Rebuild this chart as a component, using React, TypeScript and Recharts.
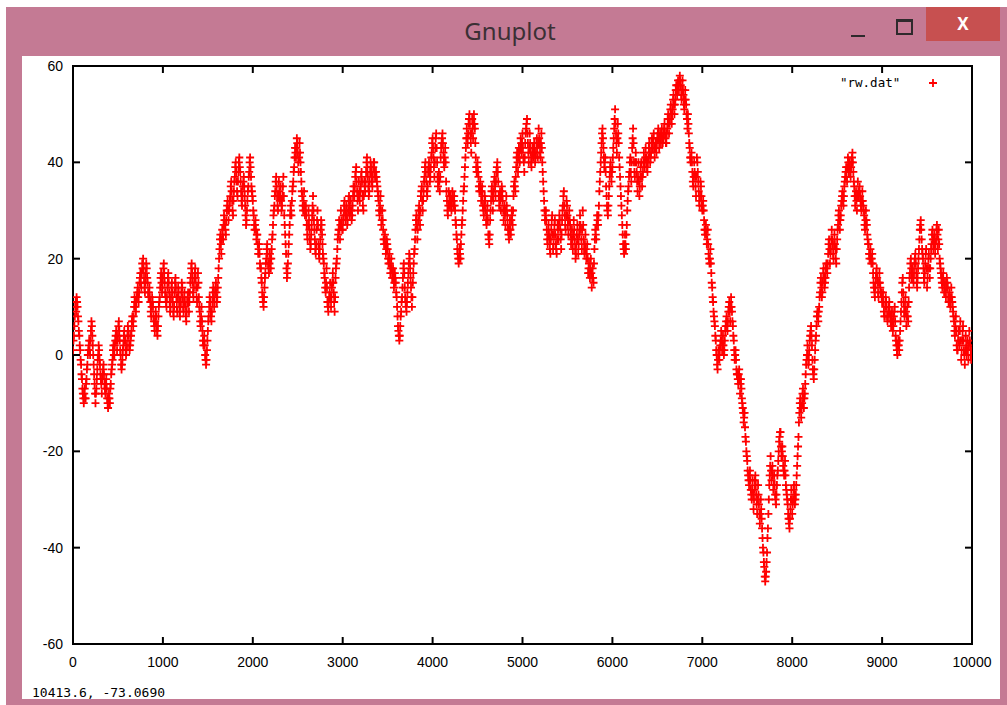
import React from 'react';
import { ScatterChart, Scatter, XAxis, YAxis, ReferenceLine, ReferenceArea } from 'recharts';

// Random walk "rw.dat": samples at steps 0,10,20,... (walkA)
// and at steps 5,15,25,... (walkB)
const STEP = 10;
const OFFSET_B = 5;
const walkA: number[] = [
  1,4,8,11,12, 10,7,4,1,-2, -5,-8,-10,-7,-9, -5,-2,1,3,0, 5,6,2,-2,-6, -10,-7,-3,0,1, -2,-5,-8,-4,-2, -6,-8,-5,-9,-11, -8,-10,-6,-3,-1, 2,0,3,5,1,
  4,7,3,0,-3, -1,2,5,3,0, 2,6,4,1,3, 5,8,6,10,11, 9,12,14,11,15, 17,14,19,20,16, 13,17,18,15,12, 14,11,8,12,10, 7,5,9,6,4, 8,11,14,17,13,
  16,19,15,12,10, 14,17,13,9,12, 15,11,8,13,16, 12,9,14,11,8, 11,15,12,9,13, 10,7,11,13,9, 13,16,19,15,12, 16,18,14,11,17, 12,9,6,10,5, 2,4,0,-2,1,
  5,8,12,9,7, 11,14,10,13,15, 11,14,18,22,25, 21,26,24,29,27, 25,30,32,28,31, 33,36,32,29,34, 37,40,36,33,38, 41,38,34,31,35, 37,33,29,28,32, 35,38,41,37,34,
  32,29,26,28,24, 25,21,23,19,18, 15,12,10,14,17, 20,23,19,17,21, 18,22,25,29,31, 34,37,33,30,36, 32,35,30,33,37, 29,25,21,16,19, 23,27,31,29,34, 36,39,43,41,45,
  42,38,44,40,36, 33,30,34,29,31, 27,24,30,26,22, 25,29,33,28,24, 21,26,30,23,20, 24,28,25,21,19, 16,13,18,11,9, 12,15,10,14,17, 13,9,16,19,22, 25,28,24,30,27,
  26,29,32,28,31, 27,30,33,29,32, 28,31,35,33,37, 39,34,30,36,32, 35,38,33,30,36, 34,38,41,37,33, 36,40,38,35,39, 40,37,38,36,34, 32,29,33,27,30, 26,23,25,21,24,
  22,19,21,17,20, 16,18,14,17,15, 12,8,5,3,6, 9,12,16,19,14, 11,9,13,17,21, 18,14,10,15,19, 22,26,29,24,28, 31,27,33,35,30, 34,37,40,36,33, 38,40,36,39,42,
  45,41,37,43,46, 40,35,38,34,41, 44,46,42,39,43, 36,32,29,34,31, 33,30,34,31,33, 30,27,24,21,19, 22,20,25,28,32, 35,39,43,47,44, 48,50,46,42,49, 45,50,47,41,38,
  40,37,34,36,32, 35,31,29,33,30, 27,31,25,23,28, 32,35,30,34,37, 33,38,40,36,31, 34,30,35,32,28, 31,27,33,29,26, 24,28,25,30,27, 33,36,34,39,42, 38,43,40,45,42,
  46,41,38,44,47, 49,44,40,46,42, 39,43,41,44,40, 42,45,41,47,44, 41,46,40,36,32, 28,30,26,23,27, 24,21,26,29,22, 25,28,23,21,27, 24,29,26,22,28, 31,34,29,26,32,
  29,25,30,27,23, 26,22,28,24,20, 23,27,21,25,29, 26,22,30,24,21, 25,20,23,17,19, 16,20,14,18,15, 22,26,24,29,27, 31,36,40,44,47, 43,39,41,35,31, 29,33,37,40,36,
  39,43,47,51,46, 42,48,44,39,35, 31,27,23,21,25, 22,27,32,35,38, 41,36,43,47,40, 37,42,38,34,40, 33,37,40,35,38, 42,39,43,40,38, 41,44,40,42,45, 43,46,41,44,42,
  45,47,43,46,44, 47,44,46,48,45, 44,47,50,46,49, 52,48,51,54,50, 53,56,54,57,55, 58,56,53,57,54, 51,55,52,49,50, 46,43,40,42,38, 35,40,37,33,41, 38,34,31,36,33,
  30,32,28,25,27, 23,26,21,19,22, 17,14,11,8,6, 3,0,-3,1,-1, 2,5,1,4,0, 3,6,8,5,9, 11,7,12,9,6, 3,-1,1,-3,-4, -6,-3,-8,-5,-9, -11,-14,-12,-17,-20,
  -22,-25,-27,-24,-28, -30,-26,-32,-28,-25, -29,-33,-27,-31,-35, -30,-34,-38,-41,-44, -47,-45,-41,-36,-30, -25,-21,-26,-23,-28, -25,-29,-31,-27,-24, -20,-17,-16,-21,-19, -23,-25,-22,-27,-29, -31,-34,-36,-32,-28,
  -33,-30,-27,-31,-29, -25,-21,-17,-12,-9, -13,-10,-7,-11,-8, -4,-1,2,-2,1, 4,6,2,-3,-5, -1,3,6,9,7, 10,13,16,12,15, 18,14,16,19,17, 21,24,19,22,26, 23,20,25,22,19,
  24,27,30,26,29, 32,34,31,35,37, 39,36,41,38,40, 37,40,42,38,35, 31,34,30,36,33, 35,32,30,34,31, 29,26,30,27,24, 23,20,22,19,21, 17,14,12,16,18, 15,12,17,14,13,
  11,13,9,8,12, 10,7,9,11,8, 6,9,5,8,10, 4,2,0,3,1, 5,9,13,16,11, 8,12,6,10,7, 14,17,20,16,18, 15,19,21,17,14, 18,22,26,28,24, 21,18,15,19,22,
  14,18,21,16,20, 23,26,22,25,21, 24,27,22,26,20, 18,16,14,17,13, 15,12,16,14,11, 13,10,14,11,9, 7,4,8,2,1, 5,2,7,-1,3, 6,1,-2,4,0, 3,-1,5,2,-1,
];
const walkB: number[] = [
  3,6,10,9,11, 8,5,2,-1,-4, -7,-9,-8,-9,-6, -3,0,2,1,3, 7,4,0,-4,-8, -8,-5,-1,2,-1, -4,-6,-5,-3,-4, -7,-6,-7,-10,-9, -9,-7,-4,-2,1, 0,2,4,3,3,
  6,5,1,-2,-2, 1,4,3,1,1, 4,5,2,2,4, 7,7,8,12,10, 11,13,12,13,16, 15,17,18,18,14, 15,19,16,13,13, 12,9,10,11,8, 6,7,8,5,6, 10,12,16,15,14,
  18,17,13,11,12, 16,15,11,10,14, 13,9,10,15,14, 10,12,13,9,10, 13,14,10,11,11, 8,9,12,11,11, 15,18,17,13,14, 17,16,12,14,15, 10,7,8,7,3, 3,2,-1,-1,3,
  7,10,11,8,9, 13,12,11,14,13, 12,16,20,24,23, 24,25,27,28,26, 28,31,30,30,32, 35,34,30,32,36, 39,38,34,36,40, 39,36,32,33,36, 35,31,27,30,34, 37,40,39,35,33,
  30,27,27,26,25, 23,22,21,18,16, 13,11,12,16,19, 22,21,18,19,20, 20,24,27,30,33, 36,35,31,33,34, 33,32,31,35,33, 27,23,18,17,21, 25,29,30,32,35, 38,41,42,43,44,
  40,41,42,38,34, 31,32,31,30,29, 25,27,28,24,23, 27,31,30,26,22, 23,28,27,21,22, 26,27,23,20,17, 14,15,14,10,11, 13,12,12,15,15, 11,12,18,20,24, 26,26,27,28,26,
  28,31,30,29,29, 28,32,31,30,30, 29,33,34,35,38, 36,32,33,34,34, 37,36,31,33,35, 36,40,39,35,34, 38,39,36,37,40, 38,37,37,35,33, 30,31,30,28,28, 24,24,23,22,23,
  20,20,19,18,18, 17,16,15,16,13, 10,6,4,4,8, 11,14,18,17,12, 10,11,15,19,20, 16,12,12,17,21, 24,28,27,26,30, 29,30,34,32,32, 36,39,38,34,35, 39,38,37,41,44,
  43,39,40,45,43, 37,36,36,37,43, 45,44,40,41,40, 34,30,31,33,32, 31,32,33,32,31, 28,25,22,20,20, 21,23,27,30,34, 37,41,45,45,46, 49,48,44,46,47, 48,48,44,39,39,
  38,35,35,34,34, 33,30,31,32,28, 29,28,24,25,30, 34,33,32,36,35, 36,39,38,33,33, 32,33,34,30,30, 29,30,31,27,25, 26,26,28,29,30, 35,35,37,41,40, 41,42,43,44,44,
  43,40,41,46,48, 46,42,43,44,40, 41,42,43,42,41, 44,43,44,45,42, 44,43,38,34,30, 29,28,24,25,25, 22,24,28,25,23, 27,25,22,24,26, 27,28,24,25,30, 33,31,27,29,31,
  27,28,28,25,24, 24,25,26,22,21, 25,24,23,27,27, 24,26,27,22,23, 22,21,20,18,17, 18,17,16,16,19, 24,25,27,28,29, 34,38,42,46,45, 41,40,38,33,30, 31,35,39,38,38,
  41,45,49,48,44, 45,46,41,37,33, 29,25,22,23,23, 25,30,34,37,40, 38,40,45,44,38, 40,40,36,37,36, 35,39,37,37,40, 40,41,41,39,40, 43,42,41,44,44, 45,43,43,43,44,
  46,45,45,45,46, 45,45,47,46,44, 46,49,48,48,51, 50,50,53,52,52, 55,55,56,56,57, 57,54,55,55,52, 53,53,50,47,48, 44,41,41,40,36, 37,38,35,37,40, 36,32,33,35,31,
  31,30,26,26,25, 24,23,20,20,19, 15,12,9,7,4, 1,-2,-1,0,1, 3,3,2,2,1, 5,7,6,7,10, 9,10,10,7,4, 1,0,-1,-4,-5, -4,-5,-6,-7,-10, -12,-13,-15,-18,-21,
  -24,-26,-25,-26,-29, -28,-29,-30,-26,-27, -31,-30,-29,-33,-33, -32,-36,-40,-43,-46, -46,-43,-38,-33,-27, -23,-24,-24,-25,-27, -27,-30,-29,-25,-22, -18,-16,-19,-20,-21, -24,-24,-25,-28,-30, -33,-35,-34,-30,-30,
  -31,-28,-29,-30,-27, -23,-19,-14,-10,-11, -11,-8,-9,-9,-6, -2,0,0,-1,3, 5,4,-1,-4,-3, 1,4,8,8,9, 12,15,14,13,17, 16,15,18,18,19, 23,22,21,24,24, 21,23,23,20,22,
  26,29,28,28,31, 33,32,33,36,38, 37,39,40,39,38, 39,41,40,36,33, 33,32,33,34,34, 33,31,32,32,30, 27,28,28,25,23, 21,21,20,20,19, 15,13,14,17,16, 13,15,15,13,12,
  12,11,8,10,11, 8,8,10,9,7, 8,7,6,9,7, 3,1,2,2,3, 7,11,15,13,9, 10,9,8,8,11, 16,19,18,17,16, 17,20,19,15,16, 20,24,27,26,22, 20,16,17,21,18,
  16,20,18,18,22, 25,24,24,23,23, 26,25,24,23,19, 17,15,16,15,14, 13,14,15,12,12, 11,12,12,10,8, 5,6,5,1,3, 3,5,3,1,5, 3,0,1,2,1, 1,2,3,0,1,
];

const xTicks = [0, 1000, 2000, 3000, 4000, 5000, 6000, 7000, 8000, 9000, 10000];
const yTicks = [-60, -40, -20, 0, 20, 40, 60];
const seriesName = '"rw.dat"';
const statusText = '10413.6, -73.0690';
const windowTitle = 'Gnuplot';

const data = [
  ...walkA.map((v, i) => ({ x: i * STEP, y: v })),
  ...walkB.map((v, i) => ({ x: i * STEP + OFFSET_B, y: v })),
];

const RED = '#ff0000';
const PINK = '#c47a94';
const FONT = '"Liberation Sans", Arial, sans-serif';
const MONO = '"DejaVu Sans Mono", "Liberation Mono", monospace';
const TICK_X = 78; // inward tick length in x units (~7px)
const TICK_Y = 1.45; // inward tick length in y units (~7px)

const Plus = (props: any) => {
  const { cx, cy } = props;
  if (cx == null || cy == null) return null;
  return (
    <path
      d={`M${cx - 4},${cy}h8M${cx},${cy - 4}v8`}
      stroke={RED}
      strokeWidth={1.8}
      fill="none"
    />
  );
};

export default function App() {
  return (
    <div style={{ position: 'absolute', left: 0, top: 0, width: 1007, height: 705, background: '#fff', overflow: 'hidden' }}>
      {/* window frame */}
      <div style={{ position: 'absolute', left: 6, top: 7, width: 1001, height: 698, background: PINK }} />
      <div style={{ position: 'absolute', left: 400, top: 16, width: 220, textAlign: 'center', fontFamily: '"Noto Sans", "Open Sans", sans-serif', fontSize: 24, color: '#3b3035', lineHeight: '30px' }}>{windowTitle}</div>
      {/* minimize */}
      <div style={{ position: 'absolute', left: 851, top: 35, width: 14, height: 2, background: '#2e2a2c' }} />
      {/* maximize */}
      <div style={{ position: 'absolute', left: 896, top: 19, width: 13, height: 11, border: '2px solid #2e2a2c', borderTopWidth: 3 }} />
      {/* close */}
      <div style={{ position: 'absolute', left: 926, top: 7, width: 74, height: 34, background: '#c75050', color: '#fff', textAlign: 'center', fontFamily: '"Noto Sans", sans-serif', fontWeight: 700, fontSize: 17, lineHeight: '34px' }}>X</div>
      {/* client area */}
      <div style={{ position: 'absolute', left: 22, top: 56, width: 978, height: 643, background: '#fff' }}>
        <ScatterChart width={978} height={643} margin={{ top: 10, right: 28, left: 0, bottom: 0 }}>
          <XAxis
            type="number"
            dataKey="x"
            domain={[0, 10000]}
            ticks={xTicks}
            interval={0}
            allowDataOverflow
            axisLine={false}
            tickLine={false}
            tickSize={0}
            tickMargin={13}
            height={55}
            tick={{ fill: '#000', fontSize: 14, fontFamily: FONT }}
          />
          <YAxis
            type="number"
            dataKey="y"
            domain={[-60, 60]}
            ticks={yTicks}
            interval={0}
            allowDataOverflow
            axisLine={false}
            tickLine={false}
            tickSize={0}
            tickMargin={10}
            width={51}
            tick={{ fill: '#000', fontSize: 14, fontFamily: FONT }}
          />
          {xTicks.map((t) => (
            <ReferenceLine key={'xb' + t} segment={[{ x: t, y: -60 }, { x: t, y: -60 + TICK_Y }]} stroke="#000" strokeWidth={2} ifOverflow="visible" />
          ))}
          {xTicks.map((t) => (
            <ReferenceLine key={'xt' + t} segment={[{ x: t, y: 60 }, { x: t, y: 60 - TICK_Y }]} stroke="#000" strokeWidth={2} ifOverflow="visible" />
          ))}
          {yTicks.map((t) => (
            <ReferenceLine key={'yl' + t} segment={[{ x: 0, y: t }, { x: TICK_X, y: t }]} stroke="#000" strokeWidth={2} ifOverflow="visible" />
          ))}
          {yTicks.map((t) => (
            <ReferenceLine key={'yr' + t} segment={[{ x: 10000, y: t }, { x: 10000 - TICK_X, y: t }]} stroke="#000" strokeWidth={2} ifOverflow="visible" />
          ))}
          <Scatter name={seriesName} data={data} shape={Plus} isAnimationActive={false} />
          <ReferenceArea x1={0} x2={10000} y1={-60} y2={60} fill="none" stroke="#000" strokeWidth={2} ifOverflow="visible" />
        </ScatterChart>
        {/* legend */}
        <svg style={{ position: 'absolute', left: 814, top: 17 }} width={130} height={20}>
          <text x={4} y={14} fontFamily={MONO} fontSize={12.5} fill="#000">{seriesName}</text>
          <path d="M93,10h8M97,6v8" stroke={RED} strokeWidth={1.8} />
        </svg>
        <div style={{ position: 'absolute', left: 10, top: 629, fontFamily: MONO, fontSize: 13, color: '#000', whiteSpace: 'nowrap' }}>{statusText}</div>
      </div>
    </div>
  );
}
